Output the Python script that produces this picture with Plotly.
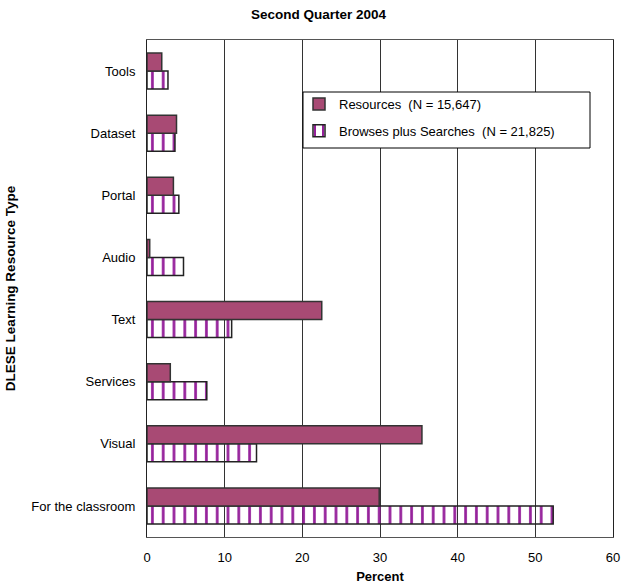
import plotly.graph_objects as go

categories = ["For the classroom", "Visual", "Services", "Text", "Audio", "Portal", "Dataset", "Tools"]
resources = [29.9, 35.4, 3.0, 22.5, 0.35, 3.4, 3.8, 1.9]
browses = [52.3, 14.1, 7.7, 10.9, 4.7, 4.1, 3.6, 2.7]
x_ticks = [0, 10, 20, 30, 40, 50, 60]

FONT = "Liberation Sans, Arial, sans-serif"

fig = go.Figure()
fig.add_trace(go.Bar(
    y=categories, x=browses, orientation="h",
    name="Browses plus Searches  (N = 21,825)", legendgroup="b", legendrank=2,
    marker=dict(color="white", line=dict(color="#222222", width=1.5),
                pattern=dict(shape="|", fgcolor="#95209A", fgopacity=1,
                             size=10.8, solidity=0.25, fillmode="replace")),
))
fig.add_trace(go.Bar(
    y=categories, x=resources, orientation="h",
    name="Resources  (N = 15,647)", legendgroup="a", legendrank=1,
    marker=dict(color="#A84A74", line=dict(color="#333333", width=1.5)),
))

fig.update_layout(
    width=621, height=586,
    margin=dict(l=147, r=8, t=40, b=49),
    paper_bgcolor="white", plot_bgcolor="white",
    font=dict(family=FONT, size=13, color="black"),
    title=dict(text="<b>Second Quarter 2004</b>", x=0.513, xanchor="center",
               xref="container", y=0.976, yref="container", yanchor="middle",
               font=dict(size=13.5)),
    barmode="group", bargap=0.42, bargroupgap=0,
    showlegend=True,
    legend=dict(x=(299 - 147) / 466, y=(537 - 89) / 497, xanchor="left", yanchor="top",
                traceorder="grouped", borderwidth=0,
                bgcolor="rgba(0,0,0,0)", font=dict(size=13), itemwidth=30,
                tracegroupgap=7),
    shapes=[dict(type="rect", xref="paper", yref="paper",
                 x0=(303 - 147) / 466, x1=(590 - 147) / 466,
                 y0=(537 - 148) / 497, y1=(537 - 92) / 497,
                 line=dict(color="black", width=1), fillcolor="white", layer="above")],
    xaxis=dict(range=[0, 60], tickvals=x_ticks, showgrid=True, gridcolor="#333333",
               gridwidth=1, showline=True, linecolor="#555555", mirror=True,
               zeroline=False, ticks="", tickfont=dict(size=13), automargin=False,
               ticklabelstandoff=8,
               title=dict(text="<b>Percent</b>", font=dict(size=13), standoff=8)),
    yaxis=dict(showline=True, linecolor="#222222", mirror=True, ticks="",
               showgrid=False, tickfont=dict(size=13), automargin=False,
               ticklabelstandoff=8,
               title=dict(text="<b>DLESE Learning Resource Type</b>", font=dict(size=13.5),
                          standoff=12)),
)

fig.write_html("out.html")
